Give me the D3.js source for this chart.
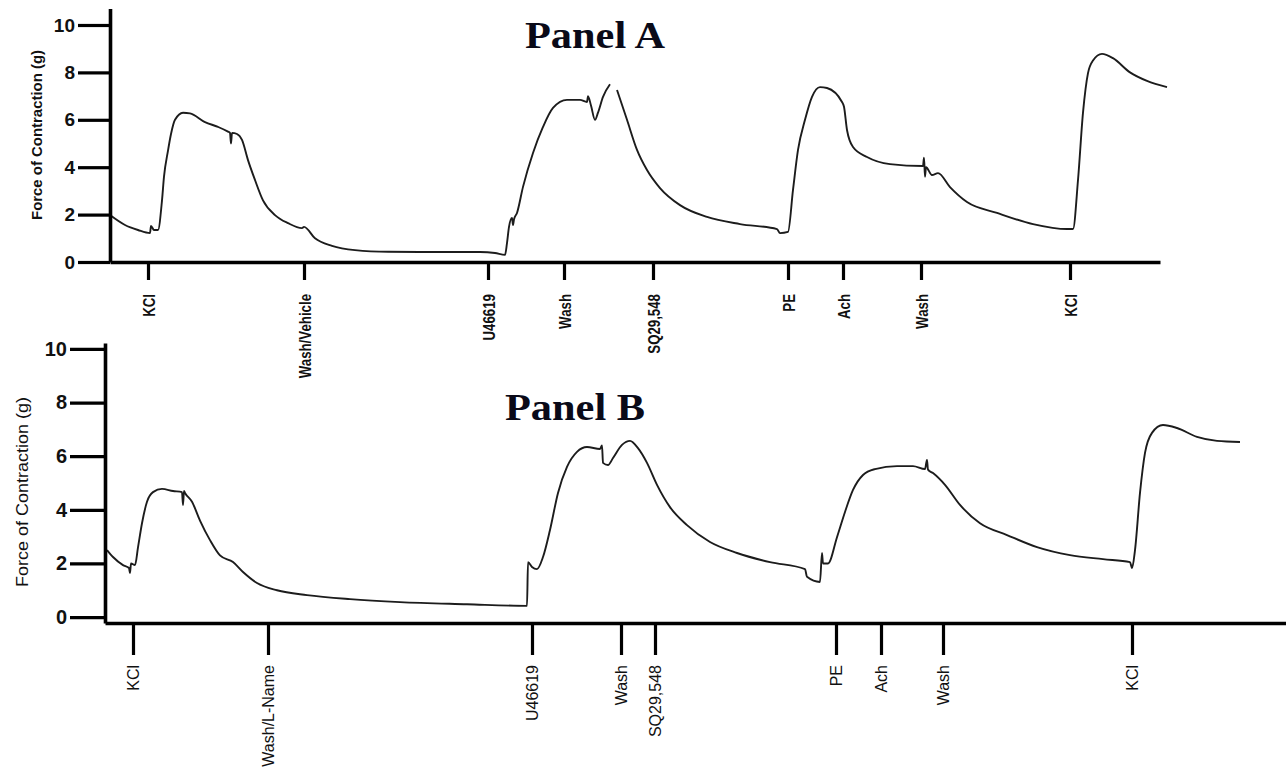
<!DOCTYPE html>
<html>
<head>
<meta charset="utf-8">
<script src="https://cdn.jsdelivr.net/npm/d3@7"></script>
<style>
  html, body { margin: 0; padding: 0; background: #fff; }
  svg { display: block; }
</style>
</head>
<body>
<svg id="chart" width="1286" height="770"></svg>
<script>
// ---------------- DATA ----------------
const yTicks = [0, 2, 4, 6, 8, 10];

// Panel A trace (time in arbitrary units, force in g); null = pen gap
const timeA = [0,1.5,2.8,4.0,4.1,4.4,4.8,5.2,5.4,5.8,6.1,6.5,7.3,8.0,9.5,10.8,11.8,12.0,12.1,12.2,12.7,13.2,13.8,14.5,15.3,16.5,17.8,19.2,19.4,20.5,22.2,24.5,27.8,32.8,37.0,38.5,39.5,39.7,39.9,40.2,40.3,40.4,40.7,41.3,42.3,43.3,44.3,45.7,47.0,47.7,47.8,48.1,48.5,48.8,49.3,50.0,50.3,50.7,51.7,52.7,53.7,55.0,57.0,59.7,63.0,66.7,67.0,67.8,68.3,68.8,69.5,70.2,71.0,71.7,73.2,73.4,73.7,74.3,75.7,78.0,81.3,81.4,81.5,81.6,82.2,82.8,84.0,85.7,88.7,92.3,95.7,96.3,96.8,97.3,97.8,98.3,99.2,100.3,102.0,103.7,105.7];
const forceA = [1.98,1.56,1.35,1.22,1.52,1.35,1.35,2.6,3.6,4.7,5.4,6.0,6.3,6.27,5.9,5.7,5.5,5.45,5.0,5.45,5.4,5.15,4.3,3.46,2.6,1.98,1.64,1.43,1.48,1.0,0.68,0.5,0.43,0.42,0.42,0.38,0.3,0.8,1.48,1.86,1.56,1.8,2.07,3.17,4.6,5.7,6.5,6.84,6.84,6.75,7.0,6.6,6.0,6.3,6.97,7.5,null,7.26,6.0,4.73,3.88,3.12,2.4,1.9,1.6,1.39,1.22,1.27,3.04,4.73,6.0,6.97,7.38,7.34,6.75,6.55,5.57,4.85,4.43,4.13,4.05,4.4,3.6,4.0,3.67,3.75,3.16,2.53,2.07,1.6,1.39,1.39,3.46,6.3,7.97,8.5,8.78,8.6,8.0,7.64,7.38];

const eventLabelsA = ["KCl","Wash/Vehicle","U46619","Wash","SQ29,548","PE","Ach","Wash","KCl"];
const eventTimesA  = [3.8, 19.4, 37.8, 45.4, 54.3, 67.8, 73.3, 81.1, 96.0];

// Panel B trace
const timeB = [0.2,0.8,1.8,2.4,2.5,2.6,3.0,3.3,3.7,4.2,4.8,5.7,6.8,7.7,7.8,7.9,8.0,8.7,9.5,10.5,11.5,12.8,13.8,15.2,17.2,20.2,24.5,29.5,36.2,42.2,42.3,42.7,43.2,43.8,44.5,45.3,46.2,47.2,48.2,49.5,49.7,49.8,50.3,50.8,51.7,52.5,53.3,54.2,55.2,56.5,58.2,60.5,63.2,66.5,70.0,70.2,71.5,71.7,71.8,72.3,73.2,74.0,74.8,75.8,77.0,79.2,80.8,82.0,82.2,82.3,82.8,84.0,85.5,87.5,90.2,93.2,96.5,99.8,102.5,102.7,103.0,103.5,104.0,104.7,105.8,107.2,109.2,111.2,113.5];
const forceB = [2.5,2.24,1.94,1.83,1.64,2.0,1.94,2.6,3.5,4.3,4.66,4.78,4.7,4.66,4.18,4.7,4.63,4.3,3.6,2.87,2.3,2.05,1.68,1.27,1.0,0.82,0.67,0.56,0.48,0.42,2.05,1.87,1.79,2.24,3.25,4.63,5.6,6.16,6.34,6.27,6.4,5.75,5.67,5.93,6.42,6.57,6.3,5.75,4.93,4.1,3.43,2.8,2.39,2.05,1.79,1.5,1.31,2.39,2.0,2.0,2.98,3.92,4.74,5.3,5.52,5.63,5.63,5.52,5.86,5.5,5.37,4.93,4.18,3.5,3.06,2.61,2.31,2.16,2.05,1.83,2.5,4.63,6.12,6.87,7.16,7.05,6.72,6.57,6.53];

const eventLabelsB = ["KCl","Wash/L-Name","U46619","Wash","SQ29,548","PE","Ach","Wash","KCl"];
const eventTimesB  = [2.8, 16.3, 42.7, 51.6, 55.0, 73.1, 77.6, 83.8, 102.7];

const titles = ["Panel A", "Panel B"];
const yLabel = "Force of Contraction (g)";

// ---------------- DRAW ----------------
const svg = d3.select("#chart");
svg.append("rect").attr("width", 1286).attr("height", 770).attr("fill", "#fff");

function drawPanel(cfg) {
  const g = svg.append("g");
  const x = d3.scaleLinear().domain(cfg.xDomain).range(cfg.xRange);
  const y = d3.scaleLinear().domain(cfg.yDomain).range(cfg.yRange);

  // trace
  const pts = cfg.time.map((t, i) => ({t, v: cfg.force[i]}));
  const line = d3.line()
    .defined(d => d.v !== null)
    .x(d => x(d.t)).y(d => y(d.v))
    .curve(d3.curveMonotoneX);
  g.append("path").datum(pts)
    .attr("d", line)
    .attr("fill", "none")
    .attr("stroke", "#1c1c1c")
    .attr("stroke-width", 1.9)
    .attr("stroke-linejoin", "round");

  // y axis
  const ya = g.append("g")
    .attr("transform", `translate(${cfg.xRange[0]},0)`)
    .call(d3.axisLeft(y).tickValues(yTicks).tickSize(cfg.yTickLen).tickSizeOuter(0).tickPadding(cfg.yTickPad).tickFormat(d3.format("d")));
  ya.select(".domain").attr("stroke", "#000").attr("stroke-width", 3.6);
  ya.selectAll(".tick line").attr("stroke", "#000").attr("stroke-width", 3.2);
  ya.selectAll(".tick text")
    .attr("fill", "#111")
    .style("font-family", "'Liberation Sans', Arial, sans-serif")
    .style("font-weight", "bold")
    .style("font-size", cfg.yFont + "px");

  // x axis
  const xa = g.append("g")
    .attr("transform", `translate(0,${cfg.xAxisY})`)
    .call(d3.axisBottom(x).tickValues(cfg.eventTimes).tickSize(cfg.xTickLen).tickSizeOuter(0)
      .tickFormat((d, i) => cfg.eventLabels[i]));
  xa.select(".domain").attr("stroke", "#000").attr("stroke-width", 3.6);
  xa.selectAll(".tick line").attr("stroke", "#000").attr("stroke-width", 3.2);
  xa.selectAll(".tick text")
    .attr("fill", "#111")
    .attr("transform", "rotate(-90)")
    .attr("x", -(cfg.xTickLen + cfg.xLabelGap))
    .attr("y", 0)
    .attr("dy", "0.36em")
    .style("text-anchor", "end")
    .style("font-family", "'Liberation Sans', Arial, sans-serif")
    .style("font-weight", cfg.xBold ? "bold" : "normal")
    .style("font-size", cfg.xFont + "px")
    .each(function() {
      if (cfg.xSquash !== 1) {
        const L = this.getComputedTextLength();
        d3.select(this).attr("textLength", L * cfg.xSquash).attr("lengthAdjust", "spacingAndGlyphs");
      }
    });

  // y label
  g.append("text")
    .attr("transform", `translate(${cfg.yLabelPos[0]},${cfg.yLabelPos[1]}) rotate(-90)`)
    .attr("text-anchor", "middle")
    .attr("fill", "#111")
    .attr("textLength", cfg.yLabelLen)
    .attr("lengthAdjust", "spacingAndGlyphs")
    .style("font-family", "'Liberation Sans', Arial, sans-serif")
    .style("font-weight", cfg.yLabelBold ? "bold" : "normal")
    .style("font-size", cfg.yLabelFont + "px")
    .text(yLabel);

  // title
  g.append("text")
    .attr("x", cfg.titlePos[0]).attr("y", cfg.titlePos[1])
    .attr("fill", "#0a0a18")
    .attr("textLength", 140)
    .attr("lengthAdjust", "spacingAndGlyphs")
    .style("font-family", "'Liberation Serif', 'Times New Roman', serif")
    .style("font-weight", "bold")
    .style("font-size", "38px")
    .text(cfg.title);
}

drawPanel({
  time: timeA, force: forceA,
  xDomain: [0, 105], xRange: [110, 1160],
  yDomain: [0, 10.7], yRange: [262, 8.4],
  xAxisY: 262, yTickLen: 32, yTickPad: 3, yFont: 19,
  xTickLen: 18, xLabelGap: 14, xFont: 17, xBold: true, xSquash: 0.78,
  eventTimes: eventTimesA, eventLabels: eventLabelsA,
  yLabelPos: [42, 135], yLabelLen: 170, yLabelFont: 14.5, yLabelBold: true,
  titlePos: [525, 48], title: titles[0]
});

drawPanel({
  time: timeB, force: forceB,
  xDomain: [0, 118.1], xRange: [105, 1286],
  yDomain: [-0.22, 10.22], yRange: [623, 343],
  xAxisY: 623, yTickLen: 35, yTickPad: 3, yFont: 20,
  xTickLen: 32, xLabelGap: 10, xFont: 16, xBold: false, xSquash: 1,
  eventTimes: eventTimesB, eventLabels: eventLabelsB,
  yLabelPos: [28, 492], yLabelLen: 190, yLabelFont: 17, yLabelBold: false,
  titlePos: [505, 420], title: titles[1]
});
</script>
</body>
</html>
